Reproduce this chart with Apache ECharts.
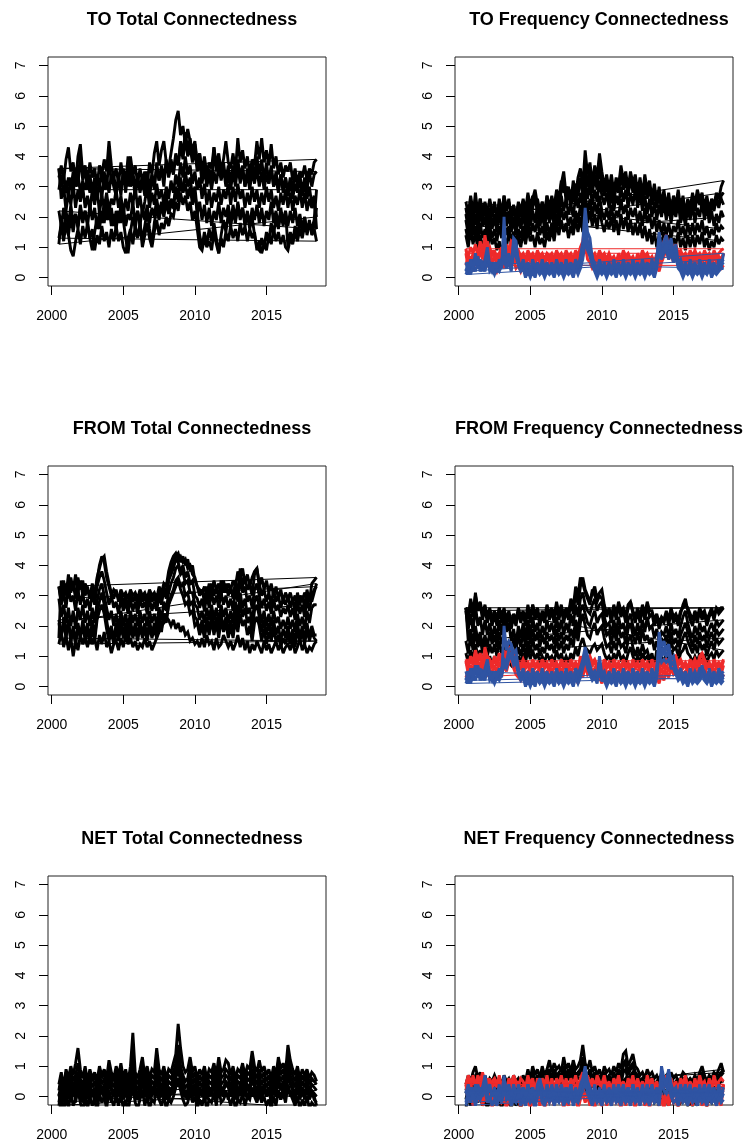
<!DOCTYPE html>
<html><head><meta charset="utf-8">
<script src="https://cdn.jsdelivr.net/npm/echarts@6/dist/echarts.min.js"></script>
<style>html,body{margin:0;padding:0;background:#fff}#c{width:745px;height:1146px}</style>
</head><body><div id="c"></div>
<script>
// ---------- labels ----------
const titles = ['TO Total Connectedness','TO Frequency Connectedness','FROM Total Connectedness','FROM Frequency Connectedness','NET Total Connectedness','NET Frequency Connectedness'];
const xTickYears = [2000, 2005, 2010, 2015];
const yTickValues = [0, 1, 2, 3, 4, 5, 6, 7];
const startYear = 2000.5, endYear = 2018.5; // every series: one value per two months over this span
// ---------- series values in tenths (12 values = 2 years per row) ----------
const toTotalBlack = [
[33,37,32,39,43,35,38,31,40,44,34,37, 32,38,33,36,30,37,34,39,35,45,37,33, 36,31,38,33,35,30,40,34,37,31,36,32, 35,30,38,34,41,45,37,42,45,38,36,41, 46,52,55,47,50,44,49,45,42,45,38,41, 35,40,34,38,36,43,37,41,35,39,45,38, 36,41,35,46,38,42,36,40,34,39,37,45, 39,46,38,42,37,44,36,40,34,38,33,37, 35,38,32,36,31,35,33,37,32,36,34,38, 39],
[36,30,34,28,33,29,35,30,34,28,32,29, 33,28,31,27,34,30,35,29,33,28,34,30, 27,33,29,34,28,36,30,33,27,32,29,34, 30,35,29,34,31,36,32,37,33,38,34,39, 35,41,37,44,39,46,40,43,38,42,35,39, 31,36,30,34,29,35,31,37,32,36,30,34, 29,35,30,37,31,36,30,34,29,35,31,36, 30,35,29,34,31,36,30,33,28,34,29,33, 28,33,29,35,30,34,28,33,29,35,30,34, 35],
[36,26,30,22,28,24,31,23,29,25,30,23, 27,22,29,24,30,21,27,23,28,22,26,24, 29,23,27,21,26,22,28,24,30,23,27,21, 25,30,23,28,24,31,26,29,24,30,26,32, 28,34,30,38,33,40,34,37,31,35,29,33, 26,31,24,29,23,28,25,30,24,29,26,31, 24,30,25,31,26,29,23,28,24,30,25,29, 23,28,24,30,25,29,23,27,22,28,24,29, 23,28,22,27,24,29,23,28,22,26,23,25, 20],
[11,19,15,22,17,24,18,21,16,23,18,22, 17,24,19,23,16,22,18,25,19,23,17,21, 16,22,18,24,17,21,19,25,18,22,17,23, 19,24,18,23,20,26,21,25,22,27,23,26, 24,30,27,33,28,31,26,30,24,28,21,25, 19,24,18,23,17,22,19,25,18,23,20,24, 18,24,19,25,20,23,18,22,17,23,19,24, 18,23,17,22,19,25,18,22,17,23,18,22, 17,22,18,23,17,21,16,20,15,19,14,16, 12],
[13,17,12,18,14,9,7,12,16,11,17,13, 18,13,16,9,14,11,17,12,15,10,16,12, 17,12,15,10,8,13,16,11,17,13,18,10, 14,18,13,10,15,19,14,18,16,20,17,21, 20,25,22,28,24,27,22,25,19,22,16,10, 9,13,10,12,9,15,11,8,13,10,15,12, 17,13,16,12,18,14,17,12,16,13,15,9, 12,8,11,9,14,11,16,12,15,11,14,10, 9,13,11,15,12,16,13,17,15,18,16,19, 29],
[29,34,27,32,26,33,28,35,30,41,32,36, 29,34,28,33,27,31,26,35,29,40,31,34, 28,33,27,36,31,40,32,35,29,34,28,32, 27,32,26,34,29,38,32,36,30,39,33,37, 34,40,37,45,41,48,42,46,40,44,37,41, 33,38,31,36,30,43,35,39,33,38,32,37, 31,37,32,39,33,37,30,36,31,38,33,40, 34,39,32,38,31,37,30,35,29,34,28,33, 27,32,26,31,28,33,27,31,26,30,24,27, 16],
[22,17,23,18,14,20,15,21,17,24,19,22, 18,13,9,15,20,16,22,18,25,19,23,17, 22,18,24,19,13,8,15,20,16,22,18,12, 17,22,16,11,18,23,19,24,20,25,21,24, 23,29,25,32,28,35,30,33,27,30,22,14, 10,15,11,16,12,18,13,8,14,19,15,21, 17,22,18,24,19,23,17,21,16,20,14,10, 9,13,10,15,12,18,14,20,16,21,17,22, 10,15,12,17,14,19,15,20,14,18,15,17, 23]
];
const toFreqBlack = [
[23,18,25,20,28,21,26,19,24,18,23,20, 25,19,24,20,27,22,26,19,23,18,24,20, 25,20,27,21,26,29,24,19,25,21,27,22, 26,21,28,24,31,35,27,30,25,32,27,33, 36,30,42,34,38,31,37,33,41,35,30,34, 29,34,28,33,30,37,32,35,29,35,31,34, 28,33,27,34,29,32,26,31,25,30,24,29, 23,28,22,27,24,29,23,27,21,26,23,28, 24,29,26,28,23,27,22,26,24,28,26,30, 32],
[19,14,22,16,21,15,23,17,20,14,21,16, 20,15,22,16,23,17,21,15,19,14,20,16, 21,16,23,17,22,18,24,17,21,16,23,18, 22,17,25,20,27,22,26,21,24,20,27,23, 28,23,33,26,31,24,29,25,32,27,24,28, 23,28,22,27,24,30,25,29,23,28,24,29, 23,28,22,27,21,26,20,25,19,24,20,25, 19,24,18,23,20,25,18,22,17,23,19,24, 18,23,20,25,19,24,18,22,17,21,18,22, 20],
[14,10,16,11,15,9,14,10,13,9,15,11, 13,9,12,7,14,10,15,11,13,9,14,10, 15,11,16,12,14,10,15,11,13,10,15,12, 16,12,18,14,19,15,18,13,17,14,19,15, 20,15,24,18,22,17,21,16,23,18,15,19, 16,20,15,19,14,21,16,20,15,19,14,18, 14,18,13,17,12,16,11,15,10,14,11,15, 10,14,9,13,11,15,10,13,9,14,10,14, 10,14,11,15,10,13,9,12,10,14,11,13, 12],
[21,16,24,18,26,19,22,17,20,15,22,17, 21,16,23,17,25,19,22,16,20,15,21,17, 22,17,25,18,23,27,21,17,23,18,24,19, 24,19,26,22,29,33,25,28,23,29,24,30, 32,27,38,30,34,28,33,29,37,31,27,31, 26,31,25,30,28,34,29,32,27,33,28,31, 25,30,24,31,26,30,24,28,23,28,22,27, 21,26,20,25,22,27,21,25,19,24,21,26, 22,27,24,26,21,25,20,24,22,26,23,27, 28],
[16,12,19,14,17,12,18,13,16,11,17,13, 16,12,17,13,19,14,17,12,15,11,16,13, 17,13,19,14,18,15,19,14,17,13,18,14, 18,14,21,17,23,19,22,17,20,16,22,18, 24,19,28,21,26,20,25,21,27,22,19,23, 19,24,18,22,20,26,21,24,19,23,20,23, 18,22,17,23,18,21,16,20,15,19,14,18, 14,18,13,17,15,19,14,17,13,18,14,18, 14,18,15,19,14,17,13,16,14,18,15,17, 16],
[25,21,27,22,24,20,26,22,25,21,26,22, 24,20,26,21,27,23,25,21,24,20,25,22, 26,22,28,23,27,24,26,22,25,21,27,23, 27,23,29,26,32,28,30,26,29,25,31,27, 33,28,37,30,35,29,34,30,39,33,29,32, 28,32,27,31,29,35,30,33,28,34,29,32, 27,31,26,32,27,30,25,29,24,28,23,27, 22,26,21,25,23,27,22,25,20,25,22,26, 23,27,25,27,22,26,21,25,23,27,24,26, 24]
];
const toFreqRed = [
[9,7,10,8,11,7,12,8,14,9,10,7, 9,6,8,10,7,11,9,12,11,8,9,7, 8,6,9,7,8,6,9,7,8,6,8,7, 8,6,9,7,8,6,9,7,8,6,9,7, 10,12,18,11,9,7,8,6,9,7,8,6, 8,6,7,5,8,6,9,7,8,6,7,5, 8,6,9,7,8,6,7,5,8,6,10,12, 14,10,12,9,11,8,9,7,8,6,9,7, 9,7,8,6,9,7,8,6,9,7,8,9, 9.5],
[9.5,5,7,4,8,5,9,6,11,6,8,5, 7,4,6,8,5,9,6,10,8,5,7,4, 6,4,7,5,6,4,7,5,6,4,7,5, 6,4,7,5,6,4,7,5,6,4,7,5, 8,10,15,9,7,5,6,4,7,5,6,4, 6,4,5,3,6,4,7,5,6,4,5,3, 6,4,7,5,6,4,5,3,6,4,8,10, 12,8,10,7,9,6,7,5,6,4,7,5, 7,5,6,4,7,5,6,4,7,5,6,5, 8],
[8,3,5,2,6,3,6,3,8,4,5,3, 4,2,4,6,3,7,4,8,6,3,4,2, 4,2,5,3,4,2,5,3,4,2,5,3, 4,2,5,3,4,2,5,3,4,2,5,3, 5,7,11,6,5,3,4,2,5,3,4,2, 4,2,3,1,4,2,5,3,4,2,3,1, 4,2,5,3,4,2,3,1,4,2,5,7, 9,6,8,5,7,4,5,3,4,2,5,3, 5,3,4,2,5,3,4,2,5,3,4,3, 4],
[4,7,5,8,6,9,7,10,8,12,7,9, 6,8,5,9,7,10,8,11,9,7,8,6, 7,5,8,6,7,5,8,6,7,5,8,6, 7,5,8,6,7,5,8,6,7,5,8,6, 9,11,14,10,8,6,7,5,8,6,7,5, 7,5,6,4,7,5,8,6,7,5,6,4, 7,5,8,6,7,5,6,4,7,5,9,11, 12,9,11,8,10,7,8,6,7,5,8,6, 8,6,7,5,8,6,7,5,8,6,7,6, 8]
];
const toFreqBlue = [
[3,1,4,2,8,3,5,2,6,10,4,2, 4,2,5,3,20,4,6,3,13,12,5,2, 4,1,3,1,4,2,3,1,4,2,3,1, 4,2,3,1,4,2,3,1,4,2,5,3, 7,12,23,15,13,6,4,2,5,3,4,2, 3,1,4,2,3,1,4,2,3,1,4,2, 3,1,4,2,3,1,4,2,6,15,9,12, 14,10,13,8,11,5,4,2,3,1,4,2, 3,1,4,2,3,1,4,2,3,1,5,3, 8],
[2,5,3,6,4,7,3,5,4,8,3,5, 2,5,3,6,9,5,7,4,11,10,6,3, 5,2,4,1,3,1,4,2,3,1,4,2, 3,1,4,2,3,1,4,2,3,1,4,2, 5,9,18,12,10,7,3,1,4,2,3,1, 4,2,3,1,4,2,3,1,4,2,3,1, 4,2,3,1,4,2,3,1,5,12,8,10, 12,8,11,7,9,4,3,1,4,2,3,1, 4,2,3,1,4,2,3,1,4,2,3,5, 6],
[1,3,1,4,2,5,2,4,2,6,2,3, 1,3,2,4,6,3,5,2,8,7,4,2, 3,0,2,0,2,0,3,1,2,0,2,1, 2,0,3,1,2,0,2,1,2,0,3,1, 3,6,12,9,7,4,2,0,2,1,2,0, 2,1,2,0,3,1,2,0,2,1,2,0, 2,1,2,0,2,1,2,0,3,9,6,8, 9,6,8,5,7,3,2,0,2,1,2,0, 2,1,2,0,2,1,3,0,2,1,2,3, 3],
[5,2,6,3,7,4,6,3,5,7,4,2, 5,3,6,4,7,5,8,4,9,8,5,3, 6,3,5,2,6,3,5,2,6,3,5,2, 5,2,6,3,5,2,6,3,5,2,6,4, 6,8,14,11,9,6,5,2,6,3,5,2, 5,2,6,3,5,2,6,3,5,2,6,3, 5,2,6,3,5,2,6,3,7,12,7,9, 11,7,9,6,8,5,6,3,5,2,6,3, 5,2,6,3,5,2,6,3,5,2,6,4, 5]
];
const fromTotalBlack = [
[33,28,35,30,37,31,34,29,36,32,35,30, 33,29,34,30,36,39,42,43,38,34,31,29, 32,28,31,27,30,26,31,28,30,27,31,28, 30,27,31,28,30,27,32,29,33,30,36,39, 41,43,44,41,43,40,42,38,40,35,33,30, 32,28,33,29,34,30,33,29,35,31,34,30, 33,29,35,30,39,33,36,32,34,30,37,39, 34,30,32,28,31,27,32,28,30,26,29,27, 30,26,29,25,31,27,30,26,32,28,34,35, 36],
[33,27,31,26,33,28,30,25,32,27,31,26, 29,25,31,27,33,36,38,35,31,27,30,26, 28,24,29,25,28,24,29,25,28,24,29,26, 28,24,29,25,28,25,30,27,32,29,35,37, 39,42,41,38,40,36,38,34,35,30,29,26, 29,25,30,26,31,27,30,26,31,27,30,26, 29,25,32,28,36,31,33,28,30,26,32,34, 30,26,29,25,28,24,29,25,27,23,26,24, 27,23,26,22,28,24,27,23,29,25,30,32, 33],
[29,23,27,21,26,20,25,19,26,22,27,21, 25,20,26,21,28,32,34,30,26,22,25,20, 24,19,25,20,24,19,25,21,24,20,25,21, 24,20,25,21,24,20,26,22,28,25,31,34, 36,39,40,37,38,34,35,31,31,27,26,22, 25,21,26,22,27,22,26,21,27,23,26,21, 25,21,28,23,31,26,29,24,26,21,28,30, 26,21,25,20,24,20,25,21,23,19,22,19, 23,19,22,18,24,20,23,19,25,21,26,27, 27],
[22,17,21,16,22,15,19,14,20,16,21,15, 19,14,20,15,22,25,27,24,19,15,18,14, 19,15,20,16,19,14,20,16,19,15,20,16, 19,15,20,16,19,16,21,18,24,21,27,29, 31,33,35,32,30,27,28,24,25,20,21,17, 20,16,21,17,22,17,21,16,22,18,21,16, 20,16,22,18,24,20,22,17,20,15,21,23, 20,15,19,14,18,15,19,15,17,13,16,14, 18,14,17,13,19,15,18,14,19,15,18,16, 15],
[14,18,13,17,12,16,10,15,12,17,14,16, 13,17,14,16,12,17,14,18,13,15,11,14, 15,12,16,13,17,14,16,13,15,12,14,13, 16,13,15,12,14,16,18,20,21,23,22,20, 22,19,21,18,20,17,18,15,16,14,15,13, 16,13,17,14,15,12,16,13,14,17,15,13, 15,12,14,17,13,16,12,15,11,14,12,15, 13,11,15,12,14,11,13,15,12,14,11,13, 14,12,15,11,13,16,12,14,11,13,12,14, 15],
[16,35,29,34,30,36,32,37,31,35,30,34, 32,29,33,30,35,40,43,41,36,33,30,32, 31,29,32,30,31,29,32,30,31,29,32,30, 31,29,32,30,31,29,33,31,34,33,38,41, 43,44,42,43,41,42,39,40,37,36,33,32, 31,33,30,34,31,35,32,34,30,35,31,34, 32,35,33,38,36,39,34,37,33,36,38,39, 33,36,32,35,31,34,30,33,29,32,28,31, 29,31,28,30,27,30,28,31,29,30,28,31, 34],
[21,16,23,17,22,15,20,14,21,16,22,17, 21,15,22,16,24,28,31,27,22,17,20,15, 21,16,22,17,21,16,22,17,21,16,22,17, 21,16,22,17,21,17,23,19,24,22,27,30, 32,35,36,33,34,30,31,27,28,23,22,18, 22,17,23,18,24,19,23,18,24,19,23,18, 22,17,25,20,28,23,26,21,23,18,25,27, 23,18,22,17,21,17,22,17,20,15,19,16, 20,15,19,14,21,16,20,15,21,16,20,17, 17]
];
const fromFreqBlack = [
[26,21,28,23,31,25,27,22,26,21,25,20, 24,20,26,21,25,20,24,19,23,20,25,21, 24,20,26,21,27,22,25,20,24,21,26,22, 25,21,27,22,26,21,25,22,28,24,31,27, 33,36,32,30,28,31,33,29,31,32,27,24, 25,21,26,22,27,23,25,21,26,28,24,21, 25,21,26,22,27,23,24,20,23,19,22,21, 24,20,25,21,23,20,24,27,29,25,22,20, 24,21,25,22,24,20,23,25,22,26,24,25, 26],
[25,19,24,18,27,20,23,17,22,17,21,16, 20,16,22,17,24,18,21,15,19,14,20,16, 21,16,22,17,23,18,21,16,20,17,22,18, 21,17,23,18,22,17,21,18,24,20,27,23, 29,31,27,25,24,27,29,25,27,28,23,20, 21,17,22,18,23,19,21,17,22,24,20,17, 21,17,22,18,23,19,20,16,19,15,18,17, 20,16,21,17,19,16,20,23,25,21,18,16, 20,17,21,18,20,16,19,21,18,22,20,21, 22],
[15,11,17,12,19,13,16,11,15,10,14,11, 14,10,15,11,13,8,11,7,12,9,13,10, 14,10,15,11,16,12,14,10,13,11,15,12, 14,11,16,12,15,11,14,12,16,13,19,15, 21,24,20,17,16,19,21,17,19,20,16,13, 14,11,15,12,16,13,14,11,15,17,13,10, 13,10,14,11,12,9,11,7,12,10,13,11, 14,11,15,12,13,10,14,16,18,15,13,11, 14,11,15,12,14,10,13,15,12,16,14,15, 16],
[11,8,12,9,14,10,12,8,11,8,10,7, 10,7,11,8,9,7,8,7,9,7,10,8, 11,8,12,9,12,9,11,8,10,8,11,9, 10,8,12,9,11,8,10,8,11,9,13,10, 14,16,13,12,11,13,14,12,13,14,11,9, 10,8,11,9,12,9,10,8,11,13,10,8, 10,8,11,9,10,8,9,7,9,7,10,8, 11,9,12,10,10,8,11,12,14,11,10,8, 10,8,11,9,10,8,10,11,9,12,10,11, 12],
[26,23,29,25,30,26,28,24,27,23,26,22, 25,22,26,23,26,22,25,21,24,22,26,23, 25,22,27,23,27,24,26,22,25,23,27,24, 26,23,28,24,27,23,26,24,29,26,33,30, 36,34,31,29,27,32,30,28,30,29,26,23, 26,23,27,24,28,25,26,23,27,28,25,23, 26,23,27,24,28,25,25,22,24,21,23,22, 25,22,26,23,24,22,25,26,27,26,24,22, 25,23,26,24,25,22,24,26,23,26,25,26, 26],
[26,15,19,14,20,15,18,13,17,13,18,14, 17,13,18,14,17,12,15,11,16,12,17,13, 18,13,19,14,19,15,18,13,17,14,18,15, 17,14,19,15,18,14,17,15,19,16,22,18, 25,27,24,21,20,23,25,21,23,24,20,17, 18,14,19,15,20,16,18,14,19,21,17,14, 18,14,19,15,17,14,16,12,15,12,16,14, 17,13,18,14,16,13,17,19,21,18,16,13, 17,14,18,15,17,13,16,18,15,19,17,18, 19]
];
const fromFreqRed = [
[8,6,9,7,11,8,10,7,13,9,8,6, 9,7,10,8,11,9,12,13,10,8,7,6, 8,6,7,5,8,6,7,5,8,6,7,5, 8,6,7,5,8,6,7,5,8,6,7,5, 9,7,11,8,9,7,8,6,7,5,8,6, 7,5,8,6,7,5,8,6,7,5,8,6, 7,5,8,6,7,5,8,6,7,5,8,6, 9,7,10,8,9,7,8,6,7,5,8,6, 8,6,9,11,8,6,7,5,8,6,7,6, 8.5],
[8.5,4,7,5,9,6,8,5,11,7,6,4, 7,5,8,6,9,7,10,11,8,6,5,4, 6,4,5,3,6,4,5,3,6,4,5,3, 6,4,5,3,6,4,5,3,6,4,5,3, 7,5,9,6,7,5,6,4,5,3,6,4, 5,3,6,4,5,3,6,4,5,3,6,4, 5,3,6,4,5,3,6,4,5,3,6,4, 7,5,8,6,7,5,6,4,5,3,6,4, 6,4,7,9,6,4,5,3,6,4,5,4, 7],
[3,5,4,6,5,8,6,4,8,5,4,2, 5,3,6,4,7,5,8,9,6,4,3,2, 4,2,3,1,4,2,3,1,4,2,3,1, 4,2,3,1,4,2,3,1,4,2,3,1, 5,3,7,4,5,3,4,2,3,1,4,2, 3,1,4,2,3,1,4,2,3,1,4,2, 3,1,4,2,3,1,4,2,3,1,4,2, 5,3,6,4,5,3,4,2,3,1,4,2, 4,2,5,7,4,2,3,1,4,2,3,2, 4],
[9,7,10,8,12,9,11,8,12,10,9,7, 10,8,11,9,12,10,13,12,11,9,8,7, 9,7,8,6,9,7,8,6,9,7,8,6, 9,7,8,6,9,7,8,6,9,7,8,6, 10,8,10,9,10,8,9,7,8,6,9,7, 8,6,9,7,8,6,9,7,8,6,9,7, 8,6,9,7,8,6,9,7,8,6,9,7, 9,8,10,9,10,8,9,7,8,6,9,7, 9,7,10,11,9,7,8,6,9,7,8,7, 9]
];
const fromFreqBlue = [
[3,1,4,2,6,3,5,2,6,9,4,2, 4,2,5,3,20,12,15,14,11,12,6,3, 4,1,3,1,4,2,3,1,4,2,3,1, 4,2,3,1,4,2,3,1,4,2,5,3, 6,9,13,10,7,4,5,3,10,4,3,1, 4,2,3,1,4,2,3,1,4,2,3,1, 3,1,4,2,3,1,4,2,5,18,13,15, 12,14,9,10,6,3,4,2,3,1,4,2, 3,1,4,7,3,1,4,2,3,1,4,2, 4],
[2,5,3,6,4,7,3,5,4,8,3,5, 2,5,3,6,9,8,12,13,9,10,5,3, 5,2,4,1,3,1,4,2,3,1,4,2, 3,1,4,2,3,1,4,2,3,1,4,2, 5,8,12,8,6,3,4,2,8,3,2,1, 3,1,4,2,3,1,4,2,3,1,4,2, 4,2,3,1,4,2,3,1,4,15,11,13, 10,12,7,8,5,3,4,2,3,1,4,2, 4,2,3,6,4,2,3,1,4,2,3,2, 3],
[1,3,1,4,2,5,2,4,2,6,2,3, 1,3,2,4,7,6,9,10,7,8,4,2, 3,0,2,0,2,0,3,1,2,0,2,1, 2,0,3,1,2,0,2,1,2,0,3,1, 3,6,9,6,4,2,3,1,6,2,2,0, 2,1,2,0,3,1,2,0,2,1,2,0, 2,1,2,0,2,1,2,0,3,11,8,9, 8,9,6,6,4,2,3,1,2,0,3,1, 2,1,2,4,2,1,3,0,2,1,2,1, 2],
[5,2,6,3,7,4,6,3,5,7,4,2, 5,3,6,4,8,7,10,11,8,9,5,3, 6,3,5,2,6,3,5,2,6,3,5,2, 5,2,6,3,5,2,6,3,5,2,6,4, 6,8,10,8,6,4,5,3,7,4,5,2, 5,2,6,3,5,2,6,3,5,2,6,3, 5,2,6,3,5,2,6,3,6,12,10,11, 10,11,8,8,6,4,6,3,5,2,6,3, 5,3,6,6,5,2,6,3,5,2,6,4, 5]
];
const netTotalBlack = [
[4,8,3,9,6,10,7,11,16,9,6,10, 5,9,6,8,5,10,7,9,6,12,8,6, 10,7,11,6,9,5,10,21,8,6,9,13, 7,10,6,9,8,16,9,7,10,6,9,8, 11,14,24,16,10,8,9,13,8,10,6,9, 7,10,6,9,8,11,7,13,8,9,12,11, 7,10,6,9,8,11,7,10,9,15,10,8, 12,8,10,7,9,6,10,7,13,9,11,8, 17,12,9,7,10,6,9,7,9,6,8,7, 5],
[0,5,1,6,2,7,3,5,8,4,1,6, 2,6,3,5,1,7,4,6,2,8,5,3, 6,3,7,2,5,1,6,11,4,2,5,8, 3,6,2,5,4,9,5,3,6,2,5,4, 6,9,13,8,5,3,4,8,4,6,2,5, 3,6,2,5,4,7,3,9,4,5,7,6, 3,6,2,5,4,7,3,6,5,9,6,4, 7,4,6,3,5,2,6,3,8,5,7,4, 10,7,5,3,6,2,5,3,6,2,4,3, 2],
[-3,2,-2,3,-1,4,0,2,5,1,-2,3, -1,3,0,2,-2,4,1,3,-1,5,2,0, 3,0,4,-1,2,-2,3,7,1,-1,2,5, 0,3,-1,2,1,6,2,0,3,-1,2,1, 3,6,9,5,2,0,1,5,1,3,-1,2, 0,3,-1,2,1,4,0,6,1,2,4,3, 0,3,-1,2,1,4,0,3,2,6,3,1, 4,1,3,0,2,-1,3,0,5,2,4,1, 7,4,2,0,3,-1,2,0,3,-1,1,0, -3],
[-6,-1,-5,0,-4,1,-3,-1,2,-2,-5,0, -4,0,-3,-1,-5,1,-2,0,-4,2,-1,-3, 0,-3,1,-4,-1,-5,0,3,-2,-4,-1,2, -3,0,-4,-1,-2,3,-1,-3,0,-4,-1,-2, 0,3,5,2,-1,-3,-2,2,-2,0,-4,-1, -3,0,-4,-1,-2,1,-3,3,-2,-1,1,0, -3,0,-4,-1,-2,1,-3,0,-1,3,0,-2, 1,-2,0,-3,-1,-4,0,-3,2,-1,1,-2, 4,1,-1,-3,0,-4,-1,-3,0,-4,-2,-3, -4],
[2,7,3,8,4,9,5,7,11,6,3,8, 4,8,5,7,3,9,6,8,4,10,7,5, 8,5,9,4,7,3,8,14,6,4,7,10, 5,8,4,7,6,12,7,5,8,4,7,6, 8,11,17,10,7,5,6,11,6,8,4,7, 5,8,4,7,6,9,5,11,6,7,9,8, 5,8,4,7,6,9,5,8,7,12,8,6, 9,6,8,5,7,4,8,5,11,7,9,6, 13,9,7,5,8,4,7,5,8,4,6,5, 4],
[-2,3,-1,4,0,5,1,3,6,2,-1,4, 0,4,1,3,-1,5,2,4,0,6,3,1, 4,1,5,0,3,-1,4,9,2,0,3,6, 1,4,0,3,2,7,3,1,4,0,3,2, 4,7,11,6,3,1,2,6,2,4,0,3, 1,4,0,3,2,5,1,7,2,3,5,4, 1,4,0,3,2,5,1,4,3,7,4,2, 5,2,4,1,3,0,4,1,6,3,5,2, 8,5,3,1,4,0,3,1,4,0,2,1, 0],
[1,-3,2,-2,3,-1,4,-2,3,-1,2,-3, 3,-1,2,-2,4,0,3,-1,5,1,-2,2, -1,3,-2,4,0,2,-1,5,3,-1,4,0, 3,-1,2,0,4,1,-1,3,0,2,-2,3, 1,4,6,3,0,2,-1,3,0,2,-3,1, 2,-1,3,0,2,-1,4,1,3,0,2,-1, 3,0,2,-1,4,1,2,-1,3,0,2,-1, 2,-1,3,0,2,-2,3,0,2,-1,3,0, 3,0,2,-2,3,0,2,-1,3,0,2,-1, -2]
];
const netFreqBlack = [
[4,7,5,8,10,6,8,5,7,4,6,5, 7,5,6,4,7,5,6,4,7,5,6,4, 7,5,9,6,10,7,9,6,10,7,9,12, 8,11,9,10,8,13,9,11,8,12,9,10, 12,17,11,9,12,8,10,7,9,6,10,8, 9,7,10,8,11,9,14,15,10,12,14,10, 9,7,8,6,9,7,8,6,7,5,8,6, 7,5,8,6,7,5,6,8,7,5,6,5, 7,5,8,10,7,5,7,6,8,7,9,11, 8],
[2,5,3,6,7,4,6,3,5,2,4,3, 5,3,4,2,5,3,4,2,5,3,4,2, 5,3,7,4,8,5,7,4,8,5,7,9, 6,9,7,8,6,10,7,9,6,10,7,8, 9,13,8,7,9,6,8,5,7,4,8,6, 7,5,8,6,9,7,11,12,8,10,11,8, 7,5,6,4,7,5,6,4,5,3,6,4, 5,3,6,4,5,3,4,6,5,3,4,3, 5,3,6,8,5,3,5,4,6,5,7,8, 9],
[-1,3,0,4,5,1,3,0,2,-1,2,0, 3,0,2,-1,3,0,2,-1,3,0,2,-1, 3,1,5,2,6,3,5,2,6,3,5,6, 4,7,5,6,4,8,5,7,4,8,5,6, 6,9,5,4,6,3,5,2,4,1,5,3, 4,2,5,3,6,4,8,9,5,7,8,5, 4,2,3,1,4,2,3,1,2,0,3,1, 2,0,3,1,2,0,1,3,2,0,1,0, 2,0,3,5,2,0,2,1,3,2,4,5, 5],
[-4,0,-3,1,2,-2,0,-3,-1,-4,-1,-3, 0,-3,-1,-4,0,-3,-1,-4,0,-3,-1,-4, 0,-2,2,-1,3,0,2,-1,3,0,2,3, 1,4,2,3,1,5,2,4,1,5,2,3, 3,6,2,1,3,0,2,-1,1,-2,2,0, 1,-1,2,0,3,1,5,6,2,4,5,2, 1,-1,0,-2,1,-1,0,-2,-1,-3,0,-2, -1,-3,0,-2,-1,-3,-2,0,-1,-3,-2,-3, -1,-3,0,2,-1,-3,-1,-2,0,-1,1,2, 2],
[1,4,2,5,6,3,5,2,4,1,3,2, 4,2,3,1,4,2,3,1,4,2,3,1, 4,2,6,3,7,4,6,3,7,4,6,8, 5,8,6,7,5,9,6,8,5,9,6,7, 8,11,7,6,8,5,7,4,6,3,7,5, 6,4,7,5,8,6,10,11,7,9,10,7, 6,4,5,3,6,4,5,3,4,2,5,3, 4,2,5,3,4,2,3,5,4,2,3,2, 4,2,5,7,4,2,4,3,5,4,6,7, 8]
];
const netFreqRed = [
[4,6,3,7,4,6,2,7,5,3,6,2, 5,3,6,2,4,1,5,2,6,3,5,1, 4,2,6,3,5,1,6,2,4,3,5,2, 6,3,5,1,4,2,6,3,5,2,4,1, 5,7,4,6,3,5,2,6,4,3,6,2, 4,1,5,3,6,2,4,1,5,3,6,2, 5,2,4,1,6,3,5,2,4,1,5,3, 6,3,5,2,4,1,5,3,6,2,4,1, 5,2,6,3,4,1,5,2,6,3,4,2, 4],
[4,1,5,-1,3,0,4,-2,2,1,4,-1, 2,-2,3,0,1,-1,2,-2,3,0,2,-1, 3,-1,2,-2,1,0,3,-1,2,-2,1,0, 2,-1,3,0,2,-2,1,-1,3,0,2,-2, 1,3,0,2,-1,1,-2,2,0,-1,3,-1, 2,-1,3,0,1,-2,2,-1,3,0,1,-2, 3,0,2,-1,1,-2,3,0,2,-1,1,-2, 2,-1,3,0,1,-2,2,0,3,-1,2,-1, 3,0,2,-1,1,-2,3,0,2,-1,1,-1, 4],
[4,-2,1,-3,0,-1,2,-3,0,-2,1,-4, 0,-3,1,-2,-1,-4,0,-3,1,-2,0,-4, 1,-3,0,-4,-1,-2,1,-3,0,-4,-1,-2, 0,-3,1,-2,0,-4,-1,-3,1,-2,0,-4, -1,1,-2,0,-3,-1,-4,0,-2,-3,1,-3, 0,-3,1,-2,-1,-4,0,-3,1,-2,-1,-4, 1,-2,0,-3,-1,-4,1,-2,0,-3,-1,-4, 0,-3,1,-2,-1,-4,0,-2,1,-3,0,-3, 1,-2,0,-3,-1,-4,1,-2,0,-3,-1,-3, 4],
[4,7,5,6,3,7,5,8,4,6,3,5, 6,4,7,3,5,2,6,4,7,5,3,6, 5,3,7,4,6,2,5,3,6,4,7,3, 5,2,6,4,7,3,5,2,6,4,7,3, 6,8,5,7,4,6,3,7,5,4,7,3, 5,2,6,4,7,3,5,2,6,4,7,3, 6,3,5,2,7,4,6,3,5,2,6,4, 7,4,6,3,5,2,6,4,7,3,5,2, 6,3,7,4,5,2,6,3,7,4,5,6, 5]
];
const netFreqBlue = [
[1,4,0,3,-1,4,1,3,7,2,4,0, 3,0,4,-1,7,1,4,0,3,-1,4,1, 3,-1,4,0,3,-1,4,6,2,0,3,-1, 4,0,3,-1,4,1,3,0,4,-1,3,0, 4,6,10,5,3,0,4,-1,3,0,4,-1, 3,0,4,-1,3,1,4,0,3,-1,4,0, 3,-1,4,0,3,1,4,0,3,-1,10,6, 5,9,4,2,3,-1,4,0,3,1,4,-1, 3,0,4,-1,3,1,4,0,3,-1,4,0, 3],
[-2,2,-1,3,-2,2,0,3,5,1,-2,2, 0,-2,2,-1,5,0,2,-2,1,-1,3,-1, 1,-2,2,-1,1,-3,2,4,0,-2,1,-1, 2,-2,1,-1,2,-2,1,-1,3,-2,1,-1, 2,4,8,3,1,-2,2,-1,1,-2,2,-1, 1,-2,2,-1,1,-2,2,-1,1,-2,2,-1, 1,-2,2,-1,1,-2,2,-1,1,-2,8,4, 3,7,2,0,1,-2,2,-1,1,-2,2,-1, 1,-2,2,-1,1,-2,2,-1,1,-2,2,-1, 1],
[2,-1,3,0,4,1,3,0,4,1,3,0, 2,0,3,1,6,2,3,0,4,1,2,0, 3,0,4,1,3,0,2,5,3,0,4,1, 3,0,4,1,2,0,3,1,4,0,2,1, 3,5,7,4,2,0,3,1,2,0,3,1, 2,0,3,1,4,0,2,1,3,0,4,1, 2,0,3,1,4,0,3,1,2,0,7,5, 4,8,3,1,2,0,3,1,4,0,2,1, 3,0,2,1,4,0,3,1,2,0,3,1, 2],
[-3,0,-2,1,-3,0,-1,1,2,-2,0,-3, -1,-3,0,-2,3,-1,0,-3,-1,-2,1,-3, -1,-3,0,-2,-1,-4,0,2,-2,-3,0,-2, 0,-3,-1,-2,0,-3,-1,-2,1,-3,-1,-2, 0,2,5,1,-1,-3,0,-2,-1,-3,0,-2, -1,-3,0,-2,-1,-3,0,-2,-1,-3,0,-2, -1,-3,0,-2,-1,-3,0,-2,-1,-3,5,2, 1,4,0,-2,-1,-3,0,-2,-1,-3,0,-2, -1,-3,0,-2,-1,-3,0,-2,-1,-3,0,-2, -1]
];

// ---------- build ----------
const FONT = '"Liberation Sans", Arial, Helvetica, sans-serif';
const BLACK = '#000000', RED = '#EE2B2B', BLUE = '#2F54A3';
const panels = [
  [[toTotalBlack, BLACK]],
  [[toFreqBlack, BLACK], [toFreqRed, RED], [toFreqBlue, BLUE]],
  [[fromTotalBlack, BLACK]],
  [[fromFreqBlack, BLACK], [fromFreqRed, RED], [fromFreqBlue, BLUE]],
  [[netTotalBlack, BLACK]],
  [[netFreqBlack, BLACK], [netFreqRed, RED], [netFreqBlue, BLUE]]
];
const colLeft = [48, 455], rowTop = [57, 466, 876];
const boxW = 278, boxH = 229;

function seriesPoints(s) {
  const n = s.length;
  return s.map((v, i) => [startYear + (endYear - startYear) * i / (n - 1), v / 10]);
}
// thin return strokes joining the end of one series to the start of the next (as in the source plot)
function wrapPoints(group) {
  const pts = [];
  for (let k = 0; k + 1 < group.length; k++) {
    const a = group[k], b = group[k + 1];
    pts.push([endYear, a[a.length - 1] / 10], [startYear, b[0] / 10], '-');
  }
  return pts;
}

const grid = [], xAxis = [], yAxis = [], series = [], title = [];
panels.forEach((groups, p) => {
  const c = p % 2, r = Math.floor(p / 2);
  const left = colLeft[c], top = rowTop[r];
  grid.push({left: left, top: top, width: boxW, height: boxH, show: true, borderColor: '#222', borderWidth: 1, backgroundColor: 'transparent', containLabel: false, outerBoundsMode: 'none'});
  xAxis.push({
    type: 'value', gridIndex: p, min: 1999.74, max: 2019.16,
    axisLine: {show: false, onZero: false},
    splitLine: {show: false},
    axisTick: {show: true, length: 9, customValues: xTickYears, lineStyle: {color: '#000', width: 1}},
    axisLabel: {show: true, customValues: xTickYears, margin: 23, fontSize: 14, color: '#000', fontFamily: FONT, formatter: v => String(v)}
  });
  yAxis.push({
    type: 'value', gridIndex: p, min: -0.28, max: 7.28,
    axisLine: {show: false, onZero: false},
    splitLine: {show: false},
    axisTick: {show: true, length: 9, customValues: yTickValues, lineStyle: {color: '#000', width: 1}},
    axisLabel: {show: true, customValues: yTickValues, rotate: 90, margin: 20, fontSize: 14, color: '#000', fontFamily: FONT, formatter: v => String(v)}
  });
  title.push({text: titles[p], left: left + boxW / 2, top: top - 51, textAlign: 'center',
    textStyle: {fontSize: 18, fontWeight: 'bold', color: '#000', fontFamily: FONT}});
  groups.forEach(([data, color]) => {
    data.forEach(s => {
      series.push({
        type: 'line', xAxisIndex: p, yAxisIndex: p, data: seriesPoints(s),
        showSymbol: false, symbol: 'none', clip: true, silent: true, animation: false,
        lineStyle: {color: color, width: 2.9, join: 'miter', miterLimit: 3}
      });
    });
    series.push({
      type: 'line', xAxisIndex: p, yAxisIndex: p, data: wrapPoints(data), connectNulls: false,
      showSymbol: false, symbol: 'none', clip: true, silent: true, animation: false,
      lineStyle: {color: color, width: 1}
    });
  });
});

const chart = echarts.init(document.getElementById('c'), null, {renderer: 'canvas'});
chart.setOption({backgroundColor: '#fff', animation: false, title, grid, xAxis, yAxis, series, tooltip: {show: false}});
</script>
</body></html>
